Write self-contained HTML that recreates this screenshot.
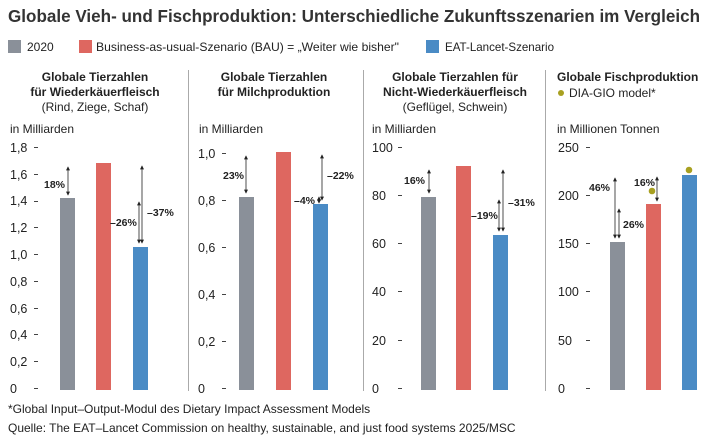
<!DOCTYPE html>
<html><head><meta charset="utf-8"><style>
html,body{margin:0;padding:0;background:#fff;}
svg{display:block;font-family:"Liberation Sans",sans-serif;}
.t{font-size:12px;fill:#222;}
.b{font-weight:bold;}
.ax{font-size:12.5px;fill:#222;}
.p{font-size:10.5px;font-weight:bold;fill:#222;}
</style></head><body>
<svg width="710" height="437" viewBox="0 0 710 437" xmlns="http://www.w3.org/2000/svg">
<defs>
<marker id="a" viewBox="0 0 6 6" refX="5" refY="3" markerWidth="5" markerHeight="5" orient="auto-start-reverse"><path d="M0,0L6,3L0,6z" fill="#222"/></marker>
</defs>
<text x="8" y="22" font-size="17.5" font-weight="bold" fill="#333" textLength="692" lengthAdjust="spacingAndGlyphs">Globale Vieh- und Fischproduktion: Unterschiedliche Zukunftsszenarien im Vergleich</text>
<rect x="8" y="40" width="13" height="13" fill="#8a9099"/><text x="27" y="51" class="t" font-size="12.5">2020</text>
<rect x="79" y="40" width="13" height="13" fill="#de6760"/><text x="96" y="51" class="t" font-size="12.5" textLength="303" lengthAdjust="spacingAndGlyphs">Business-as-usual-Szenario (BAU) = „Weiter wie bisher"</text>
<rect x="426" y="40" width="13" height="13" fill="#4a8bc5"/><text x="445" y="51" class="t" font-size="12.5" textLength="109" lengthAdjust="spacingAndGlyphs">EAT-Lancet-Szenario</text>
<g stroke="#aaa" stroke-width="1"><line x1="188.5" y1="70" x2="188.5" y2="391"/><line x1="363.5" y1="70" x2="363.5" y2="391"/><line x1="545.5" y1="70" x2="545.5" y2="391"/></g>
<g class="t b" text-anchor="middle">
<text x="95" y="81">Globale Tierzahlen</text><text x="95" y="96">für Wiederkäuerfleisch</text>
<text x="274" y="81">Globale Tierzahlen</text><text x="274" y="96">für Milchproduktion</text>
<text x="455" y="81">Globale Tierzahlen für</text><text x="455" y="96">Nicht-Wiederkäuerfleisch</text>
</g>
<text x="95" y="111" class="t" text-anchor="middle">(Rind, Ziege, Schaf)</text>
<text x="455" y="111" class="t" text-anchor="middle">(Geflügel, Schwein)</text>
<text x="557" y="81" class="t b">Globale Fischproduktion</text>
<circle cx="561" cy="93" r="3" fill="#a8a020"/><text x="569" y="97" class="t">DIA-GIO model*</text>
<text x="10" y="133" class="t">in Milliarden</text><text x="199" y="133" class="t">in Milliarden</text><text x="372" y="133" class="t">in Milliarden</text><text x="557" y="133" class="t">in Millionen Tonnen</text>
<g class="ax">
<text x="10" y="152">1,8</text><text x="10" y="179">1,6</text><text x="10" y="205">1,4</text><text x="10" y="232">1,2</text><text x="10" y="259">1,0</text><text x="10" y="286">0,8</text><text x="10" y="313">0,6</text><text x="10" y="339">0,4</text><text x="10" y="366">0,2</text><text x="10" y="393">0</text>
<text x="198" y="158">1,0</text><text x="198" y="205">0,8</text><text x="198" y="252">0,6</text><text x="198" y="299">0,4</text><text x="198" y="346">0,2</text><text x="198" y="393">0</text>
<text x="372" y="152">100</text><text x="372" y="200">80</text><text x="372" y="248">60</text><text x="372" y="296">40</text><text x="372" y="345">20</text><text x="372" y="393">0</text>
<text x="558" y="152">250</text><text x="558" y="200">200</text><text x="558" y="248">150</text><text x="558" y="296">100</text><text x="558" y="345">50</text><text x="558" y="393">0</text>
</g>
<g stroke="#444" stroke-width="1">
<path d="M34,147.5h4M34,174.5h4M34,201.5h4M34,227.5h4M34,254.5h4M34,281.5h4M34,308.5h4M34,334.5h4M34,361.5h4M34,388.5h4"/>
<path d="M222,153.5h4M222,200.5h4M222,247.5h4M222,294.5h4M222,341.5h4M222,388.5h4"/>
<path d="M398,147.5h4M398,195.5h4M398,243.5h4M398,291.5h4M398,340.5h4M398,388.5h4"/>
<path d="M586,147.5h4M586,195.5h4M586,243.5h4M586,291.5h4M586,340.5h4M586,388.5h4"/>
</g>
<g>
<rect x="60" y="198" width="15" height="192" fill="#8a9099"/><rect x="96" y="163" width="15" height="227" fill="#de6760"/><rect x="133" y="247" width="15" height="143" fill="#4a8bc5"/>
<rect x="239" y="197" width="15" height="193" fill="#8a9099"/><rect x="276" y="152" width="15" height="238" fill="#de6760"/><rect x="313" y="204" width="15" height="186" fill="#4a8bc5"/>
<rect x="421" y="197" width="15" height="193" fill="#8a9099"/><rect x="456" y="166" width="15" height="224" fill="#de6760"/><rect x="493" y="235" width="15" height="155" fill="#4a8bc5"/>
<rect x="610" y="242" width="15" height="148" fill="#8a9099"/><rect x="646" y="204" width="15" height="186" fill="#de6760"/><rect x="682" y="175" width="15" height="215" fill="#4a8bc5"/>
</g>
<circle cx="652" cy="191" r="3.3" fill="#a8a020"/><circle cx="689" cy="170" r="3.3" fill="#a8a020"/>
<g stroke="#222" stroke-width="0.8" marker-start="url(#a)" marker-end="url(#a)">
<line x1="68" y1="167" x2="68" y2="195"/>
<line x1="139" y1="202" x2="139" y2="243"/><line x1="142" y1="166" x2="142" y2="243"/>
<line x1="246" y1="156" x2="246" y2="193"/>
<line x1="322" y1="155" x2="322" y2="200"/><line x1="319" y1="197" x2="319" y2="203"/>
<line x1="429" y1="170" x2="429" y2="193"/>
<line x1="499" y1="200" x2="499" y2="231"/><line x1="503" y1="170" x2="503" y2="231"/>
<line x1="615" y1="178" x2="615" y2="238"/><line x1="619" y1="209" x2="619" y2="238"/>
<line x1="657" y1="177" x2="657" y2="201"/>
</g>
<g class="p">
<text x="44" y="188">18%</text><text x="110" y="226">–26%</text><text x="147" y="216">–37%</text>
<text x="223" y="179">23%</text><text x="327" y="179">–22%</text><text x="294" y="204">–4%</text>
<text x="404" y="184">16%</text><text x="471" y="219">–19%</text><text x="508" y="206">–31%</text>
<text x="589" y="191">46%</text><text x="623" y="228">26%</text><text x="634" y="186">16%</text>
</g>
<text x="8" y="413" class="t" font-size="11">*Global Input–Output-Modul des Dietary Impact Assessment Models</text>
<text x="8" y="432" class="t" font-size="11">Quelle: The EAT–Lancet Commission on healthy, sustainable, and just food systems 2025/MSC</text>
</svg>
</body></html>
